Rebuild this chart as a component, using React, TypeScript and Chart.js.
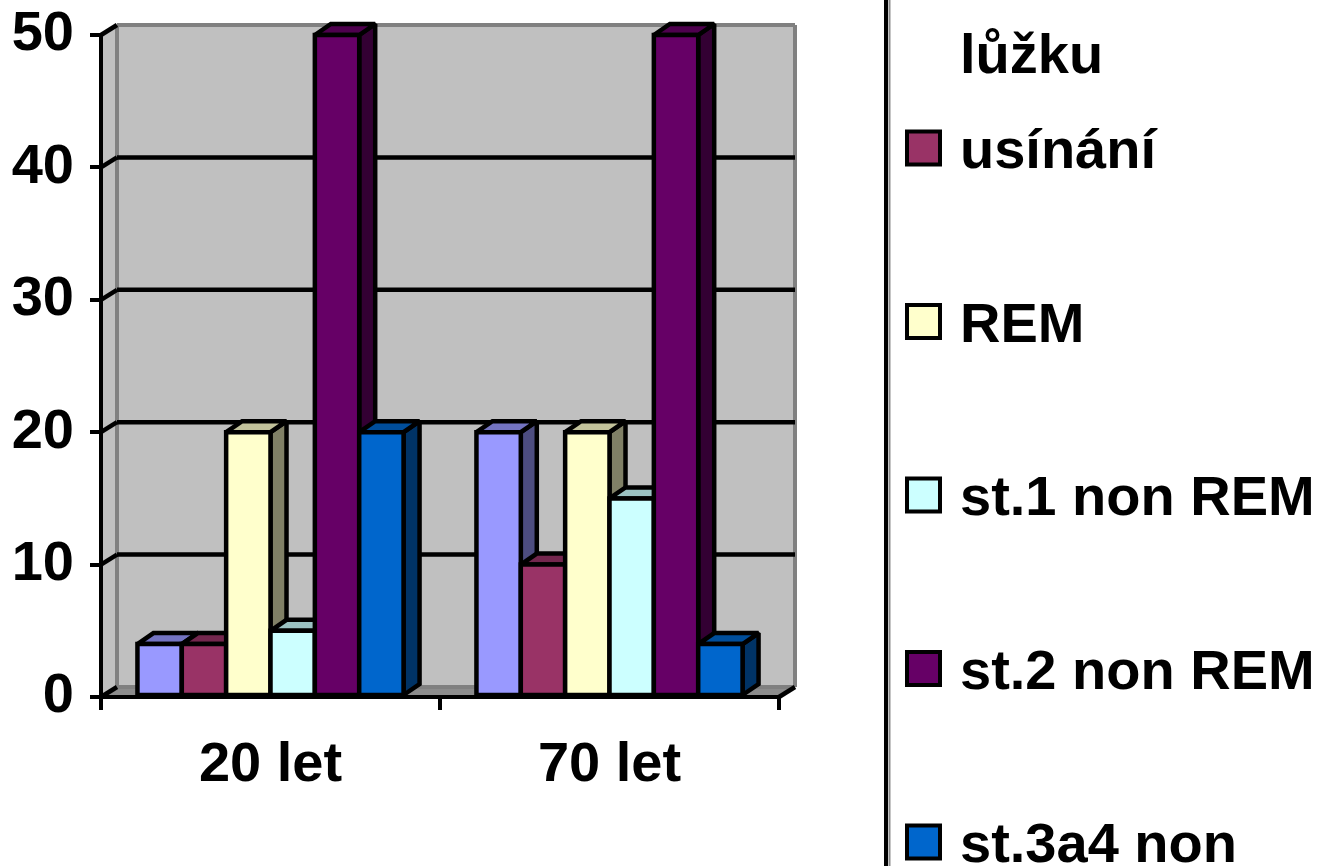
import React, { useEffect, useRef } from "react";
import { Chart, registerables } from "chart.js";

Chart.register(...registerables);

// ---- data ----
const categories = ["20 let", "70 let"];
const seriesNames = [
  "čas v\nlůžku",
  "usínání",
  "REM",
  "st.1 non REM",
  "st.2 non REM",
  "st.3a4 non\nREM",
];
const values20let = [4, 4, 20, 5, 50, 20];
const values70let = [20, 10, 20, 15, 50, 4];
const seriesColors = ["#9999FF", "#993366", "#FFFFCC", "#CCFFFF", "#660066", "#0066CC"];
const yTickValues = [0, 10, 20, 30, 40, 50];

// ---- style ----
const FONT = '"Liberation Sans", Arial, Helvetica, sans-serif';
const DX = 16; // depth offset of walls
const DY = -10;
const BDX = 16; // depth offset of bars
const BDY = -11;

function shade(hex: string, f: number): string {
  const n = parseInt(hex.slice(1), 16);
  const r = Math.round(((n >> 16) & 255) * f);
  const g = Math.round(((n >> 8) & 255) * f);
  const b = Math.round((n & 255) * f);
  return `rgb(${r},${g},${b})`;
}

function poly(ctx: CanvasRenderingContext2D, pts: number[][]) {
  ctx.beginPath();
  ctx.moveTo(pts[0][0], pts[0][1]);
  for (let i = 1; i < pts.length; i++) ctx.lineTo(pts[i][0], pts[i][1]);
  ctx.closePath();
}

function line(ctx: CanvasRenderingContext2D, x1: number, y1: number, x2: number, y2: number) {
  ctx.beginPath();
  ctx.moveTo(x1, y1);
  ctx.lineTo(x2, y2);
  ctx.stroke();
}

const wallsPlugin = {
  id: "walls3d",
  beforeDraw(chart: any) {
    const { ctx, chartArea } = chart;
    const { left, right, top, bottom } = chartArea;
    ctx.save();
    // side wall
    ctx.fillStyle = "#C0C0C0";
    poly(ctx, [[left, top], [left + DX, top + DY], [left + DX, bottom + DY], [left, bottom]]);
    ctx.fill();
    // back wall
    ctx.fillRect(left + DX, top + DY, right - left, bottom - top);
    // floor
    ctx.fillStyle = "#8C8C8C";
    poly(ctx, [[left, bottom], [left + DX, bottom + DY], [right + DX, bottom + DY], [right, bottom]]);
    ctx.fill();
    // gray edges
    ctx.strokeStyle = "#808080";
    ctx.lineWidth = 4;
    line(ctx, left + DX, top + DY, left + DX, bottom + DY);
    line(ctx, left + DX, top + DY, right + DX, top + DY);
    line(ctx, right + DX, top + DY, right + DX, bottom + DY);
    line(ctx, left + DX, bottom + DY, right + DX, bottom + DY);
    // gridlines
    const ys = chart.scales.y;
    ctx.strokeStyle = "#000";
    ctx.lineWidth = 4.5;
    ys.ticks.forEach((t: any) => {
      const py = ys.getPixelForValue(t.value);
      if (t.value !== ys.min && t.value !== ys.max) {
        line(ctx, left + DX, py + DY, right + DX, py + DY);
      }
      line(ctx, left, py, left + DX, py + DY);
    });
    line(ctx, right, bottom, right + DX, bottom + DY);
    ctx.restore();
  },
};

const bars3dPlugin = {
  id: "bars3d",
  afterDatasetsDraw(chart: any) {
    const { ctx } = chart;
    const items: { x: number; y: number; base: number; w: number; color: string }[] = [];
    chart.data.datasets.forEach((ds: any, di: number) => {
      const meta = chart.getDatasetMeta(di);
      meta.data.forEach((el: any) => {
        const p = el.getProps(["x", "y", "base", "width"], true);
        items.push({ x: p.x, y: p.y, base: p.base, w: p.width, color: seriesColors[di] });
      });
    });
    items.sort((a, b) => a.x - b.x);
    ctx.save();
    ctx.lineWidth = 4.5;
    ctx.strokeStyle = "#000";
    ctx.lineJoin = "miter";
    ctx.miterLimit = 2;
    items.forEach((it) => {
      const l = it.x - it.w / 2;
      const r = it.x + it.w / 2;
      const t = it.y;
      const b = it.base;
      // side
      poly(ctx, [[r, t], [r + BDX, t + BDY], [r + BDX, b + BDY], [r, b]]);
      ctx.fillStyle = shade(it.color, 0.5);
      ctx.fill();
      ctx.stroke();
      // top
      poly(ctx, [[l, t], [l + BDX, t + BDY], [r + BDX, t + BDY], [r, t]]);
      ctx.fillStyle = shade(it.color, 0.76);
      ctx.fill();
      ctx.stroke();
      // front
      poly(ctx, [[l, t], [r, t], [r, b], [l, b]]);
      ctx.fillStyle = it.color;
      ctx.fill();
      ctx.stroke();
    });
    ctx.restore();
  },
};

const legendPlugin = {
  id: "legendRight",
  afterDraw(chart: any) {
    const { ctx } = chart;
    ctx.save();
    // separator
    ctx.strokeStyle = "#000";
    ctx.lineWidth = 4;
    line(ctx, 886, 0, 886, 866);
    ctx.strokeStyle = "#8C8C8C";
    ctx.lineWidth = 2;
    line(ctx, 889.5, 0, 889.5, 866);
    ctx.font = `bold 56px ${FONT}`;
    ctx.textBaseline = "alphabetic";
    ctx.textAlign = "left";
    seriesNames.forEach((name, i) => {
      const base = -5.5 + 173.5 * i;
      const cy = base - 20;
      ctx.fillStyle = seriesColors[i];
      ctx.fillRect(907, cy - 16.5, 33, 33);
      ctx.strokeStyle = "#000";
      ctx.lineWidth = 4;
      ctx.strokeRect(907, cy - 16.5, 33, 33);
      ctx.fillStyle = "#000";
      name.split("\n").forEach((ln, j) => {
        ctx.fillText(ln, 960, base + j * 78);
      });
    });
    ctx.restore();
  },
};

export default function App() {
  const ref = useRef<HTMLCanvasElement | null>(null);
  useEffect(() => {
    if (!ref.current) return;
    const chart = new Chart(ref.current, {
      type: "bar",
      data: {
        labels: categories,
        datasets: seriesNames.map((n, i) => ({
          label: n.replace("\n", " "),
          data: [values20let[i], values70let[i]],
          backgroundColor: "rgba(0,0,0,0)",
          borderWidth: 0,
        })),
      },
      options: {
        animation: false,
        responsive: false,
        devicePixelRatio: 1,
        layout: { padding: { left: 0, top: 35, right: 547, bottom: 0 } },
        plugins: { legend: { display: false }, tooltip: { enabled: false } },
        datasets: { bar: { categoryPercentage: 0.785, barPercentage: 1 } },
        scales: {
          x: {
            type: "category",
            offset: true,
            grid: {
              offset: true,
              drawOnChartArea: false,
              drawTicks: true,
              tickLength: 13,
              lineWidth: 4,
              tickWidth: 4,
              tickColor: "#000",
              color: "#000",
            },
            border: { display: true, color: "#000", width: 4 },
            ticks: {
              color: "#000",
              font: { family: FONT, size: 56, weight: "bold" },
              padding: 22,
              maxRotation: 0,
            },
            afterFit: (s: any) => {
              s.height = 169;
              s.paddingLeft = 0;
              s.paddingRight = 0;
            },
          },
          y: {
            min: 0,
            max: 50,
            afterBuildTicks: (s: any) => {
              s.ticks = yTickValues.map((v) => ({ value: v }));
            },
            grid: {
              drawOnChartArea: false,
              drawTicks: true,
              tickLength: 11,
              lineWidth: 4,
              tickWidth: 4,
              tickColor: "#000",
              color: "#000",
            },
            border: { display: true, color: "#000", width: 4 },
            ticks: {
              color: "#000",
              font: { family: FONT, size: 56, weight: "bold" },
              padding: 16,
            },
            afterFit: (s: any) => {
              s.width = 101;
              s.paddingTop = 0;
              s.paddingBottom = 0;
            },
          },
        },
      },
      plugins: [wallsPlugin, bars3dPlugin, legendPlugin],
    } as any);
    return () => chart.destroy();
  }, []);
  return (
    <div style={{ position: "absolute", left: 0, top: 0, width: 1326, height: 866, background: "#fff" }}>
      <canvas ref={ref} width={1326} height={866} style={{ display: "block", width: 1326, height: 866 }} />
    </div>
  );
}
